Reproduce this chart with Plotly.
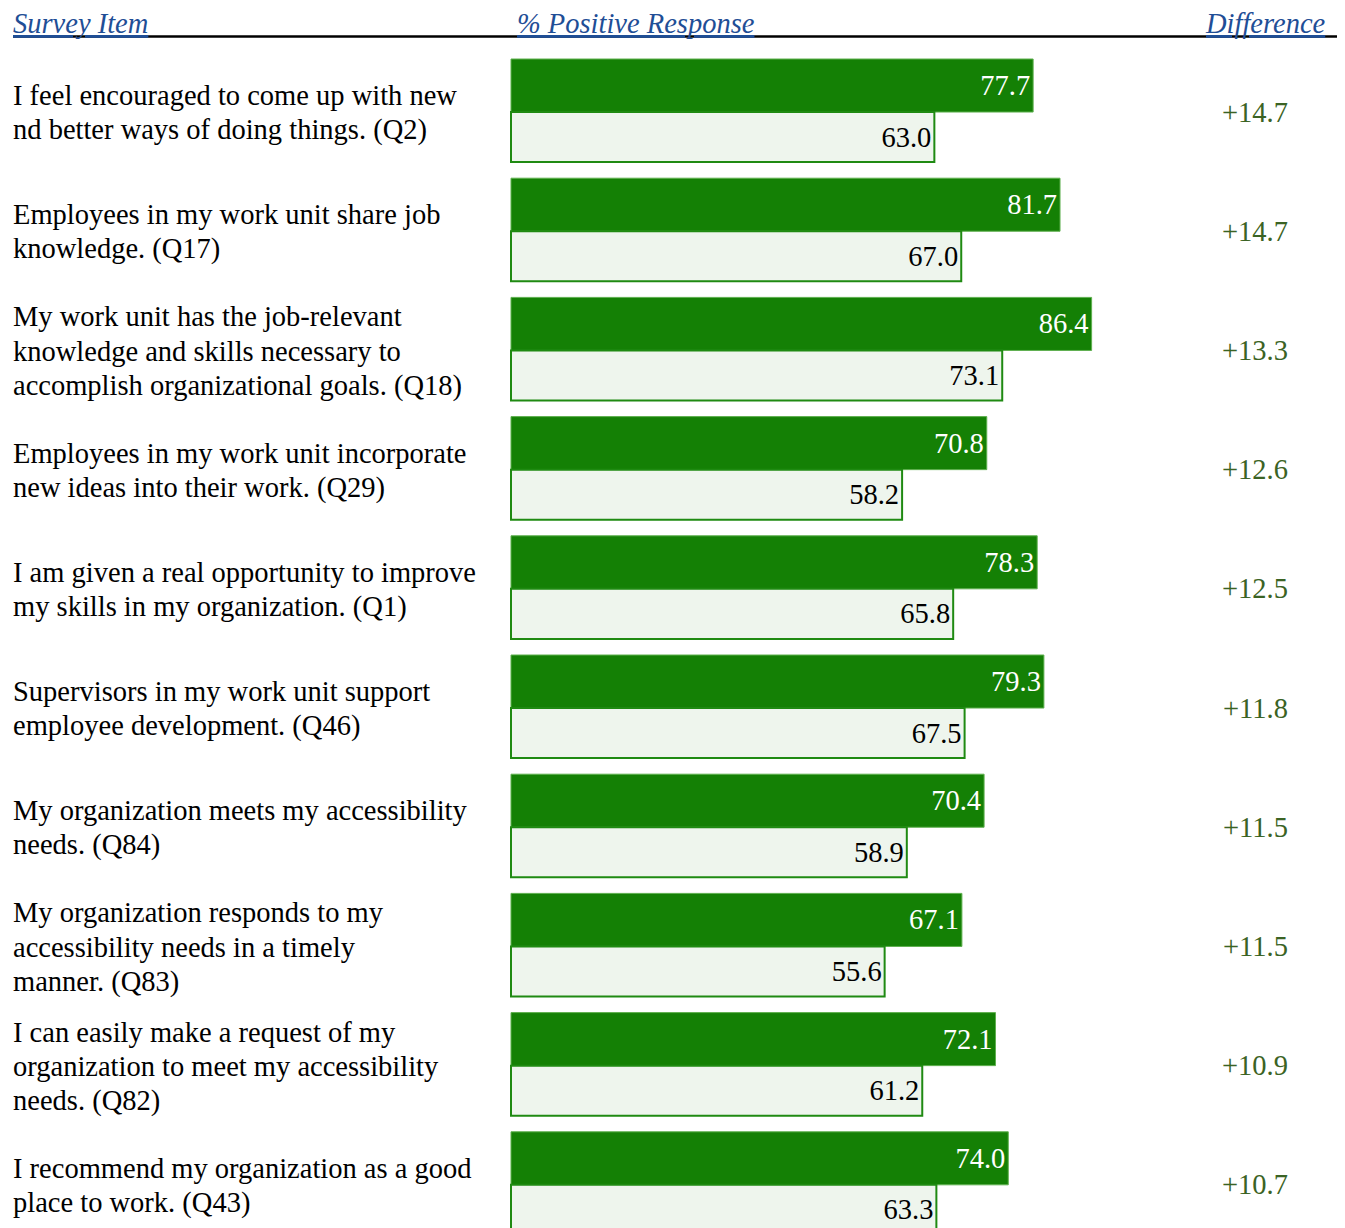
import plotly.graph_objects as go

items = [
    ["I feel encouraged to come up with new", "nd better ways of doing things. (Q2)"],
    ["Employees in my work unit share job", "knowledge. (Q17)"],
    ["My work unit has the job-relevant", "knowledge and skills necessary to", "accomplish organizational goals. (Q18)"],
    ["Employees in my work unit incorporate", "new ideas into their work. (Q29)"],
    ["I am given a real opportunity to improve", "my skills in my organization. (Q1)"],
    ["Supervisors in my work unit support", "employee development. (Q46)"],
    ["My organization meets my accessibility", "needs. (Q84)"],
    ["My organization responds to my", "accessibility needs in a timely", "manner. (Q83)"],
    ["I can easily make a request of my", "organization to meet my accessibility", "needs. (Q82)"],
    ["I recommend my organization as a good", "place to work. (Q43)"],
]
group_a = [77.7, 81.7, 86.4, 70.8, 78.3, 79.3, 70.4, 67.1, 72.1, 74.0]
group_b = [63.0, 67.0, 73.1, 58.2, 65.8, 67.5, 58.9, 55.6, 61.2, 63.3]
differences = ["+14.7", "+14.7", "+13.3", "+12.6", "+12.5", "+11.8", "+11.5", "+11.5", "+10.9", "+10.7"]
headers = ["Survey Item", "% Positive Response", "Difference"]

rows = list(range(len(items)))
FONT = "Liberation Serif, Times New Roman, serif"
FS = 28.5
W, H = 1345, 1228
OFF = 8  # page body margin


def px(page_x):
    return (page_x - OFF) / W


def py(page_y):
    return 1 - (page_y - OFF) / H


fig = go.Figure()
fig.add_trace(go.Bar(
    y=rows, x=group_a, orientation="h", base=0,
    offset=0.0, width=0.445,
    marker=dict(color="#148005", line=dict(color="#5fb04f", width=1)),
    text=[f"{v:.1f}" for v in group_a], textposition="inside",
    insidetextanchor="end",
    textfont=dict(family=FONT, size=FS, color="white"),
    cliponaxis=True, showlegend=False, hoverinfo="skip",
))
fig.add_trace(go.Bar(
    y=rows, x=group_b, orientation="h", base=0,
    offset=0.445, width=0.42,
    marker=dict(color="#eef5ed", line=dict(color="#1f8a12", width=2)),
    text=[f"{v:.1f}" for v in group_b], textposition="inside",
    insidetextanchor="end",
    textfont=dict(family=FONT, size=FS, color="black"),
    cliponaxis=True, showlegend=False, hoverinfo="skip",
))

LINE_STEP = 34.5 / 119.2
annotations = []
for i, (lines, d) in enumerate(zip(items, differences)):
    center = i + 0.445
    n = len(lines)
    for k, ln in enumerate(lines):
        annotations.append(dict(
            x=px(13), xref="paper", y=center + (k - (n - 1) / 2) * LINE_STEP, yref="y",
            text=ln, showarrow=False, xanchor="left", yanchor="middle",
            align="left", xshift=-2, yshift=-1,
            font=dict(family=FONT, size=FS, color="black"),
        ))
    annotations.append(dict(
        x=px(1255), xref="paper", y=center, yref="y",
        text=d, showarrow=False, xanchor="center", yanchor="middle",
        font=dict(family=FONT, size=FS, color="#3b6324"),
    ))

for txt, xpos in zip(headers, [13, 517, 1205]):
    annotations.append(dict(
        x=px(xpos), xref="paper", y=py(41), yref="paper",
        text=f"<i><u>{txt}</u></i>", showarrow=False,
        xanchor="left", yanchor="bottom", xshift=-2,
        font=dict(family=FONT, size=FS, color="#1f4e96"),
    ))

shapes = [dict(type="line", xref="paper", yref="paper",
               x0=px(13), x1=px(1338), y0=py(36.5), y1=py(36.5),
               line=dict(color="black", width=2.5))]

# page pixel mapping: x_page = 511 + 6.72*v ; y_page = 59 + 119.2*v
xr = [(0 + OFF - 511) / 6.72, (W + OFF - 511) / 6.72]
yr = [(H + OFF - 59) / 119.2, (0 + OFF - 59) / 119.2]

fig.update_layout(
    width=W, height=H,
    margin=dict(l=0, r=0, t=0, b=0),
    paper_bgcolor="white", plot_bgcolor="white",
    barmode="overlay",
    xaxis=dict(range=xr, visible=False, fixedrange=True),
    yaxis=dict(range=yr, visible=False, fixedrange=True),
    annotations=annotations, shapes=shapes,
)

fig.write_html("out.html")
